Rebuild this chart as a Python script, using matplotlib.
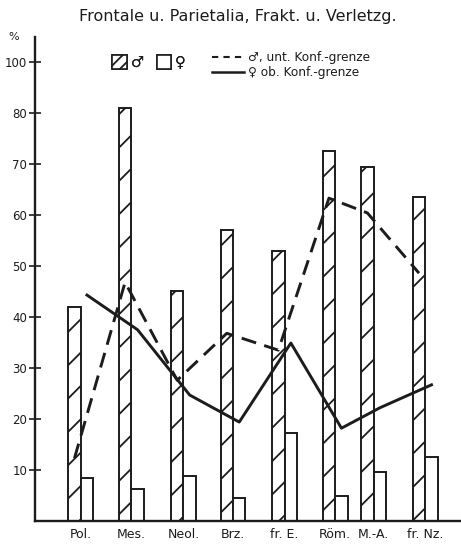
import matplotlib
matplotlib.use("Agg")
import matplotlib.pyplot as plt
from matplotlib.patches import Patch
from matplotlib.lines import Line2D

# ---- data ----
categories = ["Pol.", "Mes.", "Neol.", "Brz.", "fr. E.", "Röm.", "M.-A.", "fr. Nz."]
male_pct = [42, 81, 45, 57, 53, 72.5, 69.5, 63.5]
female_pct = [8.4, 6.3, 8.8, 4.5, 17.3, 4.9, 9.6, 12.5]
male_lower_conf = [12.3, 46.8, 27.6, 36.8, 33.5, 63.3, 60.4, 48.6]
female_upper_conf = [44.3, 37.5, 24.7, 19.4, 34.9, 18.2, 22.2, 26.7]
ytick_vals = [10, 20, 30, 40, 50, 60, 70, 80, 90]
ytick_labels = ["10", "20", "30", "40", "50", "60", "70", "80", "100"]

# ---- layout ----
positions = [0, 1.0, 2.03, 3.01, 4.03, 5.03, 5.79, 6.81]
w = 0.247
ink = "#1c1c1c"

plt.rcParams["font.family"] = ["DejaVu Sans"]
plt.rcParams["hatch.linewidth"] = 1.3
plt.rcParams["hatch.color"] = ink

fig = plt.figure(figsize=(4.61, 5.46), dpi=100)
ax = fig.add_axes([35 / 461, 25 / 546, 426 / 461, 484 / 546])

xm = positions
xf = [p + w for p in positions]
ax.bar(xm, male_pct, width=w, facecolor="white", edgecolor=ink, linewidth=1.4, hatch="/")
ax.bar(xf, female_pct, width=w, facecolor="white", edgecolor=ink, linewidth=1.4)
ax.plot(xm, male_lower_conf, color=ink, linewidth=2.1, dashes=(5.2, 2.9))
ax.plot(xf, female_upper_conf, color=ink, linewidth=2.1)

ax.set_xlim(-0.78, 7.64)
ax.set_ylim(0, 94.9)
ax.set_yticks(ytick_vals)
ax.set_yticklabels(ytick_labels, fontsize=8.5)
ax.set_xticks([p + w / 2 for p in positions])
ax.set_xticklabels(categories, fontsize=9)
ax.tick_params(axis="y", direction="inout", length=9, width=1.2, color=ink, pad=1, labelcolor=ink)
ax.tick_params(axis="x", length=0, pad=5, labelcolor=ink)
for s in ["top", "right"]:
    ax.spines[s].set_visible(False)
for s in ["left", "bottom"]:
    ax.spines[s].set_linewidth(1.7)
    ax.spines[s].set_color(ink)

fig.text(14 / 461, 1 - 37 / 546, "%", fontsize=8, ha="center", va="center", color=ink)
fig.text(238 / 461, 1 - 17 / 546, "Frontale u. Parietalia, Frakt. u. Verletzg.",
         fontsize=11.5, ha="center", va="center", color=ink)

bar_handles = [Patch(facecolor="white", edgecolor=ink, hatch="///", linewidth=1.2),
               Patch(facecolor="white", edgecolor=ink, linewidth=1.2)]
leg1 = fig.legend(bar_handles, ["♂", "♀"], ncol=2, frameon=False,
                  loc="center", bbox_to_anchor=(149 / 461, 1 - 62 / 546),
                  fontsize=10.5, handlelength=1.0, handleheight=1.1,
                  handletextpad=0.25, columnspacing=0.9, labelcolor=ink)
line_handles = [Line2D([], [], color=ink, linewidth=1.5, dashes=(3, 2.5)),
                Line2D([], [], color=ink, linewidth=1.8)]
leg2 = fig.legend(line_handles, ["♂, unt. Konf.-grenze", "♀ ob. Konf.-grenze"],
                  frameon=False, loc="center", bbox_to_anchor=(291 / 461, 1 - 65 / 546),
                  fontsize=8.7, handlelength=2.6, handletextpad=0.3,
                  labelspacing=0.15, labelcolor=ink)
fig.add_artist(leg1)

fig.savefig("out.png", dpi=100, facecolor="white")
